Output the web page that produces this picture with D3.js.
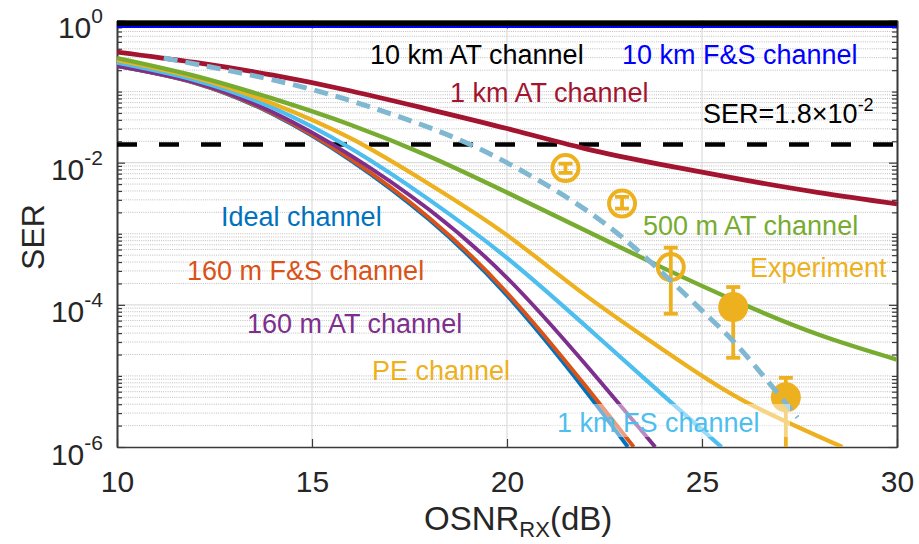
<!DOCTYPE html>
<html>
<head>
<meta charset="utf-8">
<script src="https://cdn.jsdelivr.net/npm/d3@7"></script>
<style>
  html, body { margin: 0; padding: 0; background: #fff; }
  svg { display: block; font-family: "Liberation Sans", Arial, sans-serif; }
</style>
</head>
<body>
<svg id="chart" width="919" height="544"></svg>
<script>
// Axis ticks
const osnrTicks = [10, 15, 20, 25, 30];
const serTicks = [1, 1e-2, 1e-4, 1e-6];
const serThreshold = 1.8e-2;

// Simulated SER vs received OSNR, [OSNR (dB), SER]
const at10kmChannel = [[10, 0.915], [30, 0.915]];
const fs10kmChannel = [[10, 0.81], [30, 0.81]];
const at1kmChannel = [[10, 0.36], [12, 0.257], [14, 0.17], [16, 0.102], [18, 0.0562], [20, 0.0302], [22, 0.0158], [24, 9.33e-3], [26, 5.82e-3], [28, 3.8e-3], [30, 2.63e-3]];
const at500mChannel = [[10, 0.296], [12, 0.166], [14, 0.0794], [16, 0.0339], [18, 0.0123], [20, 3.8e-3], [22, 1.12e-3], [24, 3.31e-4], [26, 1.05e-4], [28, 3.8e-5], [30, 1.7e-5]];
const peChannel = [[10, 0.278], [12, 0.158], [14, 0.0676], [16, 0.0219], [18, 5.01e-3], [20, 9.55e-4], [22, 1.38e-4], [24, 2.34e-5], [26, 4.68e-6], [28.6, 1.0e-6]];
const fs1kmChannel = [[10, 0.255], [12, 0.145], [14, 0.0589], [16, 0.0158], [18, 3.02e-3], [20, 4.57e-4], [22, 5.13e-5], [24, 5.37e-6], [25.5, 1.0e-6]];
const at160mChannel = [[10, 0.229], [12, 0.135], [14, 0.0513], [16, 0.0126], [18, 2.19e-3], [20, 2.4e-4], [22, 1.48e-5], [23.8, 1.0e-6]];
const fs160mChannel = [[10, 0.229], [12, 0.133], [14, 0.049], [16, 0.0111], [18, 1.68e-3], [20, 1.48e-4], [22, 7.4e-6], [23.25, 1.0e-6]];
const idealChannel = [[10, 0.229], [12, 0.132], [14, 0.0479], [16, 0.0107], [18, 1.58e-3], [20, 1.35e-4], [22, 6.3e-6], [23.1, 1.0e-6]];

// Measured points with error bars, and the fitted trend through them
const expOsnr = [21.5, 22.95, 24.2, 25.8, 27.15];
const expSer = [8.4e-3, 2.66e-3, 3.4e-4, 9.3e-5, 5.0e-6];
const expUpper = [9.7e-3, 3.3e-3, 6.4e-4, 1.78e-4, 9.4e-6];
const expLower = [7.2e-3, 2.26e-3, 7.5e-5, 1.8e-5, 3e-7];
const expFilled = [false, false, false, true, true];
const expFit = [[11.2, 0.296], [13, 0.191], [15, 0.107], [17, 0.049], [19, 0.0186], [21, 4.9e-3], [23, 8.5e-4], [25, 8.3e-5], [26, 2.34e-5], [27.45, 2.6e-6]];

const svg = d3.select("#chart");
const plot = { left: 117, right: 897, top: 20.5, bottom: 447 };

const x = d3.scaleLinear().domain([10, 30]).range([plot.left, plot.right]);
const y = d3.scaleLog().domain([1e-6, 1]).range([plot.bottom, plot.top]);

svg.append("rect").attr("width", 919).attr("height", 544).attr("fill", "#fff");

svg.append("defs").append("clipPath").attr("id", "plotClip")
  .append("rect")
  .attr("x", plot.left).attr("y", plot.top)
  .attr("width", plot.right - plot.left).attr("height", plot.bottom - plot.top);

// Grid: minor (dotted) at every 2..9 x decade and odd decades, major (solid) at labelled decades
const minorSer = [];
for (let k = -6; k < 0; k++) {
  for (let m = 1; m <= 9; m++) {
    const v = m * Math.pow(10, k);
    if (m === 1 && serTicks.some(t => Math.abs(Math.log10(t) - k) < 1e-9)) continue;
    minorSer.push(v);
  }
}
const grid = svg.append("g");
grid.selectAll("line.minor").data(minorSer).join("line")
  .attr("class", "minor")
  .attr("x1", plot.left).attr("x2", plot.right)
  .attr("y1", d => y(d)).attr("y2", d => y(d))
  .attr("stroke", "#b8b8b8").attr("stroke-width", 0.9)
  .attr("stroke-dasharray", "1,1.2");
grid.selectAll("line.majorY").data(serTicks.filter(t => t < 1 && t > 1e-6)).join("line")
  .attr("class", "majorY")
  .attr("x1", plot.left).attr("x2", plot.right)
  .attr("y1", d => y(d)).attr("y2", d => y(d))
  .attr("stroke", "#dcdcdc").attr("stroke-width", 1.2);
grid.selectAll("line.majorX").data(osnrTicks.slice(1, -1)).join("line")
  .attr("class", "majorX")
  .attr("x1", d => x(d)).attr("x2", d => x(d))
  .attr("y1", plot.top).attr("y2", plot.bottom)
  .attr("stroke", "#dcdcdc").attr("stroke-width", 1.2);

// Axes (ticks point inward)
const axisColor = "#3a3a3a";
function styleAxis(g) {
  g.select(".domain").attr("stroke", axisColor).attr("stroke-width", 1.6);
  g.selectAll(".tick line").attr("stroke", axisColor).attr("stroke-width", 1.2);
}
const xAxis = svg.append("g").attr("transform", `translate(0,${plot.bottom})`)
  .call(d3.axisBottom(x).tickValues(osnrTicks).tickSizeInner(-8).tickSizeOuter(0).tickPadding(24).tickFormat(d3.format("d")))
  .call(styleAxis);
xAxis.selectAll(".tick text")
  .attr("font-size", 30).attr("fill", "#262626").attr("font-family", "Liberation Sans, Arial, sans-serif");

svg.append("g").attr("transform", `translate(0,${plot.top})`)
  .call(d3.axisTop(x).tickValues(osnrTicks).tickSizeInner(-8).tickSizeOuter(0).tickFormat(""))
  .call(styleAxis);

const yAxis = svg.append("g").attr("transform", `translate(${plot.left},0)`)
  .call(d3.axisLeft(y).tickValues(serTicks).tickSizeInner(-8).tickSizeOuter(0).tickPadding(14).tickFormat(""))
  .call(styleAxis);
yAxis.selectAll(".tick text")
  .attr("font-size", 30).attr("fill", "#262626").attr("dy", null).attr("y", 17)
  .attr("font-family", "Liberation Sans, Arial, sans-serif")
  .each(function (d) {
    const t = d3.select(this);
    t.text(null);
    t.append("tspan").text("10");
    t.append("tspan").attr("font-size", 21).attr("dy", -15).text(String(Math.round(Math.log10(d))));
  });
svg.append("g").attr("transform", `translate(${plot.left},0)`)
  .call(d3.axisLeft(y).tickValues(minorSer).tickSizeInner(-5).tickSizeOuter(0).tickFormat(""))
  .call(styleAxis);
svg.append("g").attr("transform", `translate(${plot.right},0)`)
  .call(d3.axisRight(y).tickValues(serTicks).tickSizeInner(-8).tickSizeOuter(0).tickFormat(""))
  .call(styleAxis);
svg.append("g").attr("transform", `translate(${plot.right},0)`)
  .call(d3.axisRight(y).tickValues(minorSer).tickSizeInner(-5).tickSizeOuter(0).tickFormat(""))
  .call(styleAxis);

// Curves
const line = d3.line().x(d => x(d[0])).y(d => y(d[1])).curve(d3.curveNatural);
const curves = svg.append("g").attr("clip-path", "url(#plotClip)");
function drawCurve(data, color, width, dash) {
  curves.append("path").datum(data)
    .attr("d", line).attr("fill", "none")
    .attr("stroke", color).attr("stroke-width", width)
    .attr("stroke-dasharray", dash || null)
    .attr("stroke-linejoin", "round");
}

// Threshold line
curves.append("line")
  .attr("x1", plot.left).attr("x2", plot.right)
  .attr("y1", y(serThreshold)).attr("y2", y(serThreshold))
  .attr("stroke", "#000").attr("stroke-width", 4.5).attr("stroke-dasharray", "20,22");

drawCurve(idealChannel, "#0072BD", 3.9);
drawCurve(fs160mChannel, "#D95319", 3.9);
drawCurve(at160mChannel, "#7E2F8E", 3.9);
drawCurve(fs1kmChannel, "#4DBEEE", 4.2);
drawCurve(peChannel, "#EDB120", 4.2);
drawCurve(at500mChannel, "#77AC30", 4.4);
drawCurve(at1kmChannel, "#A2142F", 4.8);
drawCurve(fs10kmChannel, "#0000FF", 2.2);
drawCurve(at10kmChannel, "#000000", 5.5);

// Experimental points with error bars
const expColor = "#EDB120";
const exp = expOsnr.map((o, i) => ({ o, s: expSer[i], hi: expUpper[i], lo: expLower[i], filled: expFilled[i] }));
const expG = curves.append("g");
exp.forEach(p => {
  const cx = x(p.o);
  expG.append("line").attr("x1", cx).attr("x2", cx).attr("y1", y(p.hi)).attr("y2", y(p.lo))
    .attr("stroke", expColor).attr("stroke-width", 3.8);
  [p.hi, p.lo].forEach(v => {
    expG.append("line").attr("x1", cx - 7).attr("x2", cx + 7).attr("y1", y(v)).attr("y2", y(v))
      .attr("stroke", expColor).attr("stroke-width", 3.8);
  });
  expG.append("circle").attr("cx", cx).attr("cy", y(p.s))
    .attr("r", p.filled ? 15 : 13)
    .attr("fill", p.filled ? expColor : "none")
    .attr("stroke", p.filled ? "none" : expColor)
    .attr("stroke-width", 4);
});

drawCurve(expFit, "#80B8D2", 5, "14,8");

// Annotations
const labels = svg.append("g").attr("font-size", 27);
function label(txt, px, py, color) {
  return labels.append("text").attr("x", px).attr("y", py).attr("fill", color).text(txt);
}
label("10 km AT channel", 370, 64, "#000");
label("10 km F&S channel", 622, 64, "#0000FF");
label("1 km AT channel", 450, 102, "#A2142F");
const serNote = labels.append("text").attr("x", 703).attr("y", 123).attr("fill", "#000");
serNote.append("tspan").text("SER=1.8\u00D710");
serNote.append("tspan").attr("font-size", 18).attr("dy", -12).text("-2");
label("Ideal channel", 221, 226, "#0072BD");
label("160 m F&S channel", 187, 280, "#D95319");
label("160 m AT channel", 247, 333, "#7E2F8E");
label("PE channel", 372, 380, "#EDB120");
label("500 m AT channel", 643, 235, "#77AC30");
label("Experiment", 750, 277, "#EDB120");

// Label with a translucent white backing
labels.append("rect").attr("x", 550).attr("y", 404).attr("width", 240).attr("height", 33)
  .attr("fill", "#fff").attr("fill-opacity", 0.45);
label("1 km FS channel", 557, 432, "#4DBEEE");

// Axis titles
svg.append("text")
  .attr("transform", "translate(44,237) rotate(-90)")
  .attr("text-anchor", "middle").attr("font-size", 32).attr("fill", "#262626")
  .text("SER");
const xTitle = svg.append("text").attr("x", 424).attr("y", 530).attr("font-size", 33).attr("fill", "#262626");
xTitle.append("tspan").text("OSNR");
xTitle.append("tspan").attr("font-size", 22).attr("dy", 7).text("RX");
xTitle.append("tspan").attr("dy", -7).text("(dB)");
</script>
</body>
</html>
